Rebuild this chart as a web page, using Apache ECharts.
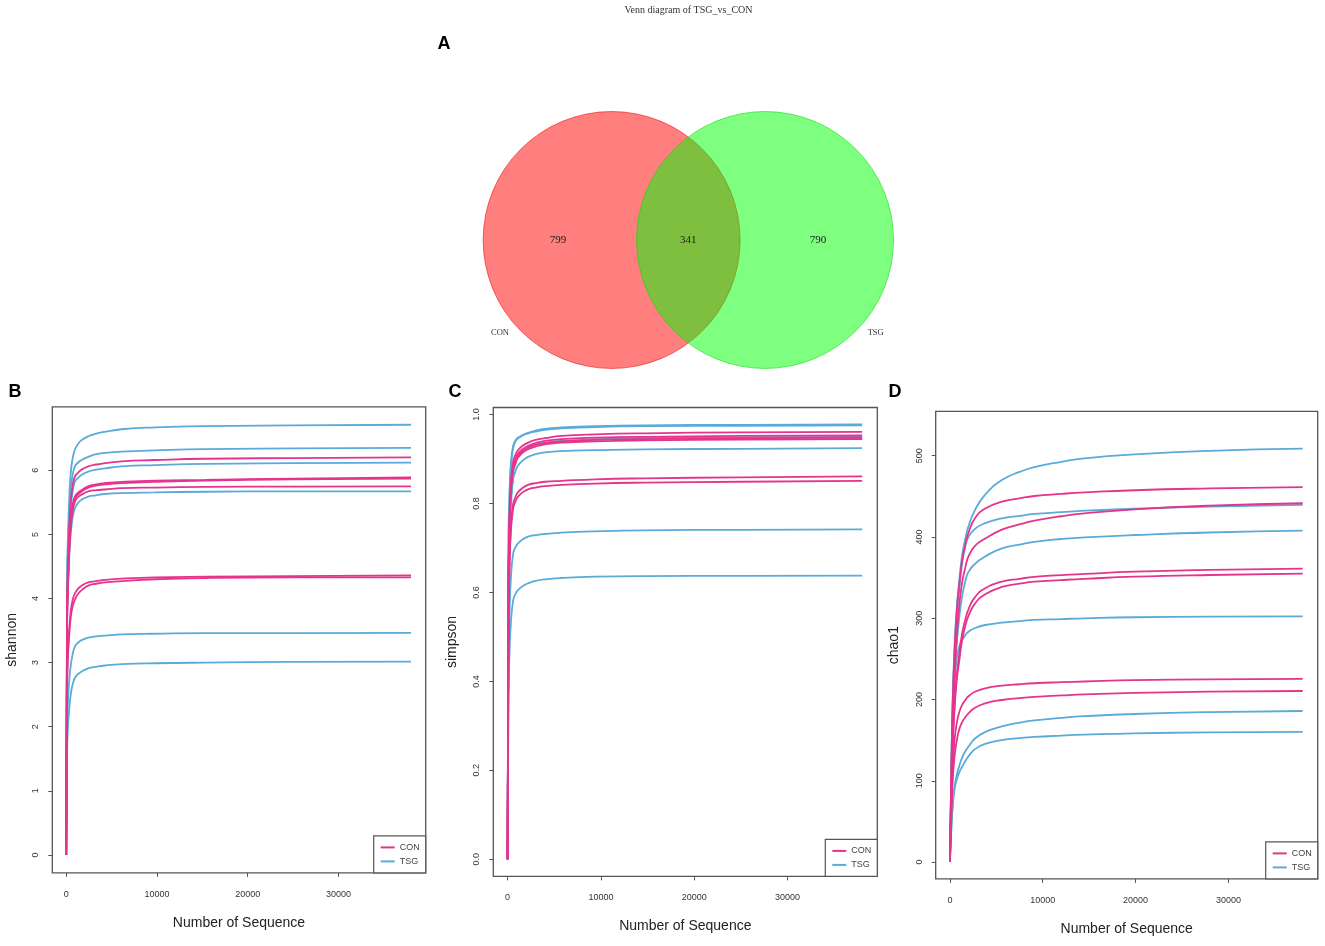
<!DOCTYPE html>
<html><head><meta charset="utf-8">
<script src="https://cdn.jsdelivr.net/npm/echarts@6/dist/echarts.min.js"></script>
<style>html,body{margin:0;padding:0;background:#fff;}#c{width:1325px;height:946px;}</style>
</head><body><div id="c"></div>
<script>
// ---------- data ----------
const vennTitle = 'Venn diagram of TSG_vs_CON';
const vennNames = ['CON', 'TSG'];
const vennCounts = [799, 341, 790]; // CON only, shared, TSG only

const xTicks = [0, 10000, 20000, 30000];
const shannonTicks = [0, 1, 2, 3, 4, 5, 6];
const simpsonTicks = [0, 0.2, 0.4, 0.6, 0.8, 1.0];
const chaoTicks = [0, 100, 200, 300, 400, 500];

const shannonSeq = [0, 100, 200, 350, 500, 700, 960, 1300, 1700, 2430, 3300, 4270, 6110, 9780, 15300, 25000, 38000];
const shannonTSG = [
  [0, 4.3, 5.0, 5.6, 5.95, 6.18, 6.32, 6.41, 6.47, 6.53, 6.57, 6.60, 6.64, 6.67, 6.69, 6.70, 6.71],
  [0, 4.1, 4.8, 5.35, 5.7, 5.92, 6.06, 6.12, 6.16, 6.21, 6.25, 6.27, 6.29, 6.31, 6.33, 6.34, 6.35],
  [0, 3.9, 4.5, 5.1, 5.4, 5.65, 5.82, 5.88, 5.93, 5.98, 6.01, 6.03, 6.06, 6.08, 6.10, 6.11, 6.12],
  [0, 3.6, 4.1, 4.7, 5.0, 5.25, 5.41, 5.49, 5.54, 5.59, 5.61, 5.63, 5.645, 5.655, 5.665, 5.67, 5.67],
  [0, 2.0, 2.4, 2.75, 2.95, 3.12, 3.25, 3.31, 3.35, 3.39, 3.41, 3.42, 3.44, 3.45, 3.46, 3.46, 3.465],
  [0, 1.6, 2.0, 2.3, 2.5, 2.65, 2.76, 2.82, 2.86, 2.91, 2.935, 2.955, 2.975, 2.99, 3.00, 3.01, 3.015]
];
const shannonCON = [
  [0, 3.9, 4.6, 5.15, 5.5, 5.75, 5.90, 5.96, 6.01, 6.06, 6.09, 6.11, 6.14, 6.16, 6.18, 6.19, 6.20],
  [0, 3.7, 4.3, 4.85, 5.2, 5.45, 5.59, 5.65, 5.69, 5.75, 5.78, 5.80, 5.82, 5.84, 5.85, 5.87, 5.89],
  [0, 3.65, 4.25, 4.8, 5.15, 5.4, 5.56, 5.62, 5.67, 5.73, 5.76, 5.78, 5.80, 5.82, 5.84, 5.86, 5.87],
  [0, 3.6, 4.2, 4.75, 5.1, 5.35, 5.51, 5.58, 5.62, 5.67, 5.69, 5.70, 5.72, 5.73, 5.74, 5.745, 5.75],
  [0, 2.7, 3.2, 3.55, 3.8, 3.97, 4.08, 4.15, 4.20, 4.25, 4.27, 4.29, 4.31, 4.33, 4.34, 4.35, 4.36],
  [0, 2.6, 3.1, 3.45, 3.7, 3.87, 3.98, 4.07, 4.13, 4.20, 4.23, 4.25, 4.27, 4.30, 4.32, 4.33, 4.33]
];

const simpsonSeq = [0, 100, 200, 350, 600, 850, 1100, 1600, 2200, 3000, 4000, 5800, 9400, 14700, 25000, 38000];
const simpsonTSG = [
  [0, 0.70, 0.80, 0.88, 0.925, 0.94, 0.946, 0.953, 0.959, 0.964, 0.968, 0.971, 0.974, 0.976, 0.977, 0.978],
  [0, 0.72, 0.82, 0.89, 0.93, 0.942, 0.948, 0.954, 0.958, 0.962, 0.966, 0.969, 0.972, 0.974, 0.975, 0.976],
  [0, 0.60, 0.72, 0.81, 0.87, 0.89, 0.905, 0.916, 0.926, 0.932, 0.937, 0.941, 0.944, 0.947, 0.949, 0.95],
  [0, 0.58, 0.70, 0.79, 0.855, 0.873, 0.885, 0.896, 0.905, 0.911, 0.915, 0.918, 0.92, 0.922, 0.923, 0.9245],
  [0, 0.45, 0.55, 0.63, 0.688, 0.702, 0.710, 0.719, 0.7255, 0.729, 0.7315, 0.7345, 0.7375, 0.7398, 0.741, 0.742],
  [0, 0.37, 0.46, 0.53, 0.583, 0.597, 0.605, 0.614, 0.6206, 0.626, 0.6296, 0.6326, 0.6355, 0.637, 0.6375, 0.638]
];
const simpsonCON = [
  [0, 0.64, 0.76, 0.845, 0.895, 0.91, 0.92, 0.93, 0.937, 0.943, 0.947, 0.952, 0.9556, 0.958, 0.96, 0.961],
  [0, 0.63, 0.75, 0.835, 0.885, 0.90, 0.912, 0.922, 0.93, 0.936, 0.941, 0.945, 0.948, 0.95, 0.952, 0.953],
  [0, 0.62, 0.74, 0.83, 0.88, 0.895, 0.907, 0.918, 0.926, 0.932, 0.936, 0.94, 0.943, 0.945, 0.947, 0.948],
  [0, 0.62, 0.74, 0.825, 0.875, 0.891, 0.903, 0.914, 0.922, 0.928, 0.933, 0.937, 0.94, 0.942, 0.944, 0.945],
  [0, 0.55, 0.66, 0.745, 0.80, 0.815, 0.825, 0.835, 0.842, 0.846, 0.849, 0.851, 0.8545, 0.8567, 0.859, 0.861],
  [0, 0.54, 0.65, 0.735, 0.79, 0.805, 0.815, 0.825, 0.832, 0.836, 0.839, 0.842, 0.845, 0.847, 0.849, 0.851]
];

const chaoSeq = [0, 150, 300, 500, 750, 1000, 1300, 1650, 2000, 2700, 3800, 5600, 7500, 9100, 12000, 14500, 19900, 28000, 38000];
const chaoTSG = [
  [0, 110, 200, 265, 315, 345, 376, 397, 413, 433, 452, 470, 480, 486, 492.5, 496.8, 501.7, 506, 508.7],
  [0, 110, 195, 255, 305, 335, 366, 388, 400, 410, 417, 423, 426, 428.3, 430.5, 432.3, 434.8, 437.5, 439.4],
  [0, 95, 165, 225, 270, 300, 326, 345, 357, 367, 376, 386, 390.5, 394, 397.5, 399.6, 402.4, 405.5, 407.7],
  [0, 100, 175, 225, 252, 265, 273, 279, 283.5, 288, 291.7, 294.5, 296.5, 297.9, 299, 299.9, 301.2, 302, 302.3],
  [0, 40, 70, 92, 108, 118, 128, 136, 142, 152, 160, 167, 171.5, 174.3, 177.5, 179.5, 182.2, 184.5, 185.9],
  [0, 40, 70, 90, 102, 110, 117, 124, 130, 139, 145.5, 150, 152.5, 154, 155.6, 156.7, 158.4, 159.5, 160.3]
];
const chaoCON = [
  [0, 110, 195, 260, 310, 340, 370, 390, 405, 423, 435, 443.4, 447.5, 450.4, 453, 454.8, 457.5, 459.7, 461.4],
  [0, 95, 170, 230, 280, 315, 343, 362, 376, 389, 398, 409, 415.5, 420, 425.5, 429, 434, 438.5, 441.5],
  [0, 80, 145, 195, 232, 255, 280, 298, 311, 326, 337, 345, 348.5, 351, 353, 354.6, 357.3, 359.5, 361.1],
  [0, 78, 140, 188, 225, 247, 272, 290, 303, 318, 329.5, 338.5, 342.5, 345, 347, 348.5, 351.1, 353.2, 354.9],
  [0, 65, 115, 150, 172, 184, 193, 199, 204, 209.5, 213.8, 217, 218.8, 220, 221.3, 222.2, 223.8, 224.8, 225.4],
  [0, 55, 100, 130, 150, 163, 172, 178, 183, 190, 195.4, 199.4, 201.8, 203.3, 205, 206.3, 208.3, 209.7, 210.5]
];

// ---------- styling / layout ----------
const PINK = '#E5348C';
const BLUE = '#5AAADA';
const AXIS = '#555';
const SANS = 'Liberation Sans, Arial, sans-serif';
const SERIF = 'Liberation Serif, Times New Roman, serif';

const panels = [
  {seq: shannonSeq, con: shannonCON, tsg: shannonTSG, ticks: shannonTicks, name: 'shannon',
   grid: {left: 52.3, top: 406.8, width: 373.4, height: 466.1}, ymin: -0.28, ymax: 6.99, fmt: v => String(v), nameGap: 33},
  {seq: simpsonSeq, con: simpsonCON, tsg: simpsonTSG, ticks: simpsonTicks, name: 'simpson',
   grid: {left: 493.3, top: 407.5, width: 384, height: 468.9}, ymin: -0.0385, ymax: 1.016, fmt: v => v.toFixed(1), nameGap: 34},
  {seq: chaoSeq, con: chaoCON, tsg: chaoTSG, ticks: chaoTicks, name: 'chao1',
   grid: {left: 935.7, top: 411.4, width: 382, height: 467.5}, ymin: -20.7, ymax: 554.5, fmt: v => String(v), nameGap: 34.5}
];

const grids = [{left: 431.35, top: 85.8, width: 514, height: 308.4, show: false}];
const xAxes = [{gridIndex: 0, type: 'value', min: -2, max: 2, show: false}];
const yAxes = [{gridIndex: 0, type: 'value', min: -1.2, max: 1.2, show: false}];
const series = [];
const legends = [];

// Venn circles (layout positions in data units of the hidden grid)
const vennOffset = 0.597;
const vennCircles = [[-vennOffset, 0, 1, 0], [vennOffset, 0, 1, 1]];
const vennFill = ['rgba(255,0,0,0.5)', 'rgba(0,255,0,0.5)'];
const vennStroke = ['rgba(240,0,0,0.55)', 'rgba(0,220,0,0.55)'];
series.push({
  type: 'custom', xAxisIndex: 0, yAxisIndex: 0, silent: true,
  data: vennCircles,
  renderItem: function (params, api) {
    const c = api.coord([api.value(0), api.value(1)]);
    const s = api.size([api.value(2), api.value(2)]);
    const k = api.value(3);
    return {type: 'circle', shape: {cx: c[0], cy: c[1], r: s[0]},
      style: {fill: vennFill[k], stroke: vennStroke[k], lineWidth: 1}};
  }
});
const countPos = [[-1.014, 0], [0, 0], [1.009, 0]];
series.push({
  type: 'scatter', xAxisIndex: 0, yAxisIndex: 0, silent: true, symbolSize: 1, z: 5,
  itemStyle: {color: 'rgba(0,0,0,0)'},
  data: vennCounts.map((v, i) => ({value: [countPos[i][0], countPos[i][1]], name: String(v)})),
  label: {show: true, position: 'inside', formatter: '{b}', opacity: 1,
    fontFamily: SERIF, fontSize: 11, color: '#1a1a1a'}
});
const namePos = [[-1.466, -0.724], [1.458, -0.724]];
series.push({
  type: 'scatter', xAxisIndex: 0, yAxisIndex: 0, silent: true, symbolSize: 1, z: 5,
  itemStyle: {color: 'rgba(0,0,0,0)'},
  data: vennNames.map((n, i) => ({value: [namePos[i][0], namePos[i][1]], name: n})),
  label: {show: true, position: 'inside', formatter: '{b}', opacity: 1,
    fontFamily: SERIF, fontSize: 8.5, color: '#333'}
});

panels.forEach((p, i) => {
  const gi = i + 1;
  grids.push(Object.assign({show: true, borderColor: AXIS, borderWidth: 1.3, backgroundColor: 'transparent'}, p.grid));
  xAxes.push({
    gridIndex: gi, type: 'value', min: -1530, max: 39620,
    name: 'Number of Sequence', nameLocation: 'middle', nameGap: 43,
    nameTextStyle: {fontFamily: SANS, fontSize: 14, color: '#222'},
    axisLine: {show: false, onZero: false},
    axisTick: {show: true, length: 4, lineStyle: {color: AXIS, width: 1}, customValues: xTicks},
    axisLabel: {show: true, margin: 17, fontFamily: SANS, fontSize: 9, color: '#333',
      customValues: xTicks, formatter: v => String(v)},
    splitLine: {show: false}
  });
  yAxes.push({
    gridIndex: gi, type: 'value', min: p.ymin, max: p.ymax,
    name: p.name, nameLocation: 'middle', nameGap: p.nameGap,
    nameTextStyle: {fontFamily: SANS, fontSize: 14, color: '#222'},
    axisLine: {show: false, onZero: false},
    axisTick: {show: true, length: 4, lineStyle: {color: AXIS, width: 1}, customValues: p.ticks},
    axisLabel: {show: true, rotate: 90, margin: 12, fontFamily: SANS, fontSize: 9, color: '#333',
      customValues: p.ticks, formatter: p.fmt},
    splitLine: {show: false}
  });
  const addGroup = (curves, name, color) => {
    curves.forEach(c => {
      series.push({
        type: 'line', name: name, xAxisIndex: gi, yAxisIndex: gi,
        data: p.seq.map((x, j) => [x, c[j]]),
        showSymbol: false, symbol: 'none', smooth: 0.5,
        lineStyle: {color: color, width: 1.8},
        itemStyle: {color: color},
        silent: true, animation: false, z: name === 'CON' ? 3 : 2
      });
    });
  };
  addGroup(p.tsg, 'TSG', BLUE);
  addGroup(p.con, 'CON', PINK);
  const g = p.grid;
  legends.push({
    data: ['CON', 'TSG'], orient: 'vertical',
    right: 1325 - (g.left + g.width), bottom: 946 - (g.top + g.height),
    backgroundColor: '#fff', borderColor: AXIS, borderWidth: 1.2,
    padding: [6, 6, 6, 7], itemGap: 3, itemWidth: 14, itemHeight: 2, icon: 'rect',
    textStyle: {fontFamily: SANS, fontSize: 9, color: '#444', lineHeight: 11},
    selectedMode: false
  });
});

const letters = [['A', 444, 44], ['B', 15, 392], ['C', 455, 392], ['D', 895, 392]];
const graphics = letters.map(l => ({
  type: 'text', x: l[1], y: l[2], z: 100,
  style: {text: l[0], font: 'bold 18px ' + SANS, fill: '#000',
    align: 'center', verticalAlign: 'middle', textAlign: 'center', textVerticalAlign: 'middle'}
}));
graphics.push({
  type: 'text', x: 688.5, y: 10, z: 100,
  style: {text: vennTitle, font: '10px ' + SERIF, fill: '#333',
    align: 'center', verticalAlign: 'middle', textAlign: 'center', textVerticalAlign: 'middle'}
});

const chart = echarts.init(document.getElementById('c'), null, {renderer: 'canvas'});
chart.setOption({
  backgroundColor: '#fff',
  animation: false,
  grid: grids, xAxis: xAxes, yAxis: yAxes,
  legend: legends,
  series: series,
  graphic: graphics
});
</script></body></html>
